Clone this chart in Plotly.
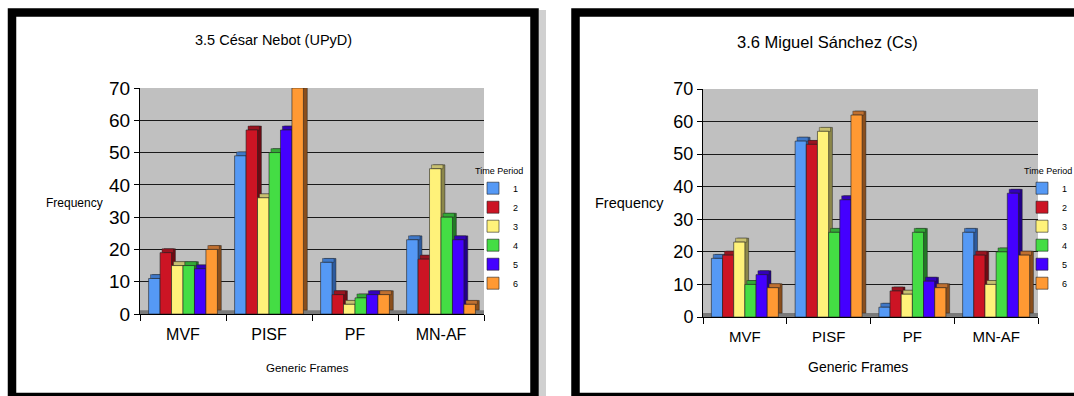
import plotly.graph_objects as go

# ---------------- data ----------------
categories = ["MVF", "PISF", "PF", "MN-AF"]
periods = ["1", "2", "3", "4", "5", "6"]

# 3.5 César Nebot (UPyD)
nebot_t1 = [11, 49, 16, 23]
nebot_t2 = [19, 57, 6, 17]
nebot_t3 = [15, 36, 3, 45]
nebot_t4 = [15, 50, 5, 30]
nebot_t5 = [14, 57, 6, 23]
nebot_t6 = [20, 70, 6, 3]

# 3.6 Miguel Sánchez (Cs)
sanchez_t1 = [18, 54, 3, 26]
sanchez_t2 = [19, 53, 8, 19]
sanchez_t3 = [23, 57, 7, 10]
sanchez_t4 = [10, 26, 26, 20]
sanchez_t5 = [13, 36, 11, 38]
sanchez_t6 = [9, 62, 9, 19]

front_colors = ["#5599F5", "#CC1424", "#FFF27A", "#44DD44", "#4400FF", "#FF9933"]
side_colors = ["#2C5A9E", "#6E0A14", "#8C874A", "#237A26", "#220088", "#8A4E1C"]
top_colors = ["#3F78C8", "#9A1420", "#C8C070", "#33AA36", "#3300BB", "#C07030"]

W, H = 1074, 396
FONT = "Liberation Sans"


def px(p):
    return p / W


def py(p):
    return 1 - p / H


fig = go.Figure()

panels = [
    dict(series=[nebot_t1, nebot_t2, nebot_t3, nebot_t4, nebot_t5, nebot_t6],
         xa="x", ya="y", legend="legend"),
    dict(series=[sanchez_t1, sanchez_t2, sanchez_t3, sanchez_t4, sanchez_t5, sanchez_t6],
         xa="x2", ya="y2", legend="legend2"),
]

group_width = 0.8
bw = group_width / len(periods)
dx = 0.045   # depth in category units
dy = 1.2     # depth in value units

for panel in panels:
    for j, vals in enumerate(panel["series"]):
        off = -group_width / 2 + j * bw
        # side of the 3-D bar
        fig.add_trace(go.Bar(
            x=categories, y=vals, base=dy, offset=off + dx, width=bw,
            marker=dict(color=side_colors[j], line=dict(color="#222222", width=0.5)),
            xaxis=panel["xa"], yaxis=panel["ya"], showlegend=False, hoverinfo="skip",
        ))
        # top of the 3-D bar
        fig.add_trace(go.Bar(
            x=categories, y=[dy] * len(vals), base=vals, offset=off + dx * 0.5, width=bw,
            marker=dict(color=top_colors[j], line=dict(color="#222222", width=0.4)),
            xaxis=panel["xa"], yaxis=panel["ya"], showlegend=False, hoverinfo="skip",
        ))
        # front face
        fig.add_trace(go.Bar(
            x=categories, y=vals, offset=off, width=bw, name=periods[j],
            marker=dict(color=front_colors[j], line=dict(color="#222222", width=0.6)),
            xaxis=panel["xa"], yaxis=panel["ya"], legend=panel["legend"],
        ))

common_y = dict(range=[0, 70], dtick=10, showgrid=True, gridcolor="#1a1a1a", gridwidth=1,
                showline=True, linecolor="#000000", linewidth=1, ticks="outside",
                ticklen=5, tickcolor="#000000", zeroline=False, fixedrange=True,
                automargin=False)
common_x = dict(type="category", tickson="boundaries", ticks="outside", ticklen=6,
                tickcolor="#000000", showline=True, linecolor="#000000", linewidth=1,
                showgrid=False, range=[-0.5, 3.5], fixedrange=True, automargin=False)

legend_common = dict(xanchor="left", yanchor="top", bgcolor="rgba(0,0,0,0)",
                     font=dict(size=9), title=dict(text="Time Period", font=dict(size=9)),
                     itemwidth=30, tracegroupgap=0)

fig.update_layout(
    width=W, height=H,
    margin=dict(l=0, r=0, t=0, b=0, pad=0, autoexpand=False),
    paper_bgcolor="#ffffff",
    plot_bgcolor="#c0c0c0",
    barmode="overlay",
    font=dict(family=FONT, color="#000000"),
    xaxis=dict(domain=[px(140), px(484)], anchor="y",
               tickfont=dict(size=16), ticklabelstandoff=6, **common_x),
    yaxis=dict(domain=[py(314), py(88)], anchor="x",
               tickfont=dict(size=19), **common_y),
    xaxis2=dict(domain=[px(703), px(1038)], anchor="y2",
                tickfont=dict(size=15), ticklabelstandoff=6, **common_x),
    yaxis2=dict(domain=[py(317), py(89)], anchor="x2",
                tickfont=dict(size=18), **common_y),
    legend=dict(x=px(473), y=py(162), **legend_common),
    legend2=dict(x=px(1022), y=py(162), **legend_common),
    showlegend=True,
)

# 3-D floor strips
for xr, yr in [("x domain", "y"), ("x2 domain", "y2")]:
    fig.add_shape(type="rect", xref=xr, yref=yr, x0=0, x1=1, y0=0, y1=dy,
                  fillcolor="#7a7a7a", line=dict(width=0), layer="below")

# panel frames
fig.add_shape(type="rect", xref="paper", yref="paper",
              x0=px(539), x1=px(546), y0=py(400), y1=py(10),
              fillcolor="rgba(120,120,120,0.35)", line=dict(width=0))
fig.add_shape(type="rect", xref="paper", yref="paper",
              x0=px(12), x1=px(534.5), y0=py(397), y1=py(12.5),
              line=dict(color="#000000", width=8.5))
fig.add_shape(type="rect", xref="paper", yref="paper",
              x0=px(575.5), x1=px(1085), y0=py(397), y1=py(12.5),
              line=dict(color="#000000", width=8.5))

# titles and axis labels
annots = [
    ("3.5 César Nebot (UPyD)", 273, 40, 14.5),
    ("3.6 Miguel Sánchez (Cs)", 827, 42, 16.5),
    ("Frequency", 74, 203, 12),
    ("Frequency", 629, 203, 14.5),
    ("Generic Frames", 307, 368, 11.5),
    ("Generic Frames", 858, 367, 14),
]
for text, ax, ay, size in annots:
    fig.add_annotation(text=text, x=px(ax), y=py(ay), xref="paper", yref="paper",
                       xanchor="center", yanchor="middle", showarrow=False,
                       font=dict(size=size, family=FONT, color="#000000"))

fig.write_html(
    "out.html",
    config={"displayModeBar": False, "staticPlot": True},
    post_script="document.body.style.margin='0px';document.body.style.overflow='hidden';",
)
